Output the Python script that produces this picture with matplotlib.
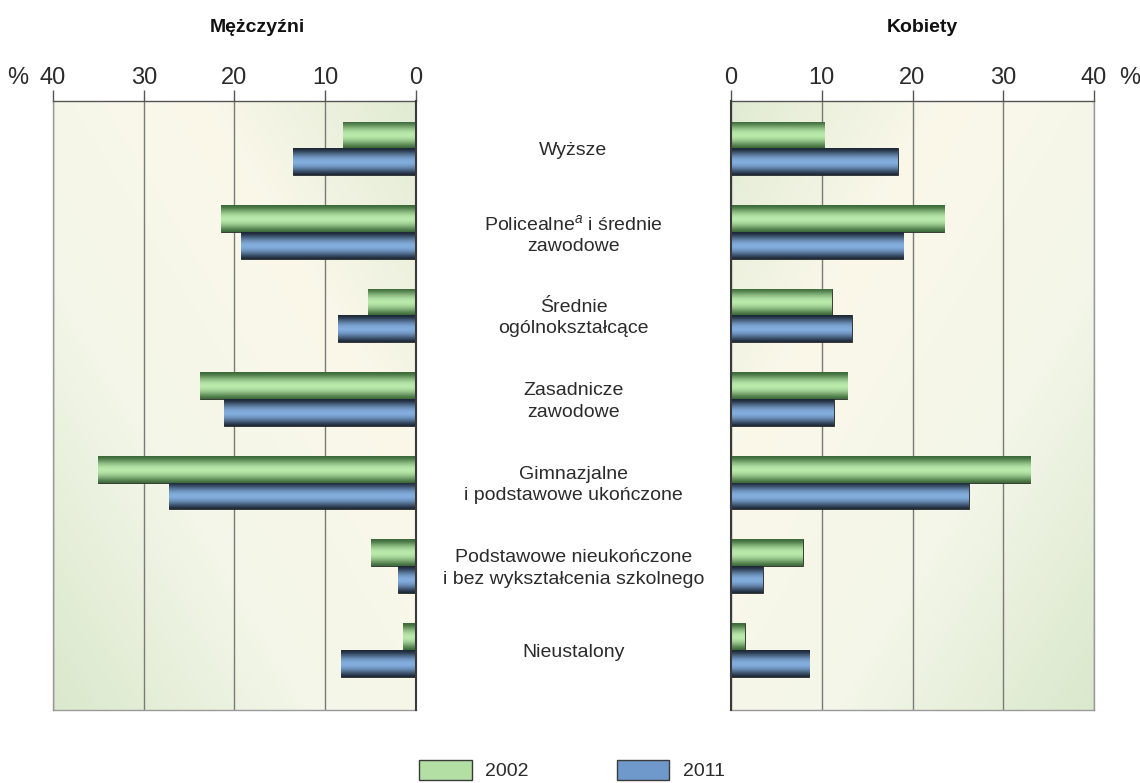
import numpy as np
import matplotlib
matplotlib.use("Agg")
import matplotlib.pyplot as plt
from matplotlib.patches import Patch
from matplotlib.transforms import blended_transform_factory
from matplotlib.colors import to_rgb

plt.rcParams['font.family'] = ['Liberation Sans', 'DejaVu Sans']
plt.rcParams['mathtext.fontset'] = 'custom'
plt.rcParams['mathtext.rm'] = 'Liberation Sans'
plt.rcParams['mathtext.it'] = 'Liberation Sans:italic'

# ---- data ----
categories = [
    "Wyższe",
    "Policealne$^{a}$ i średnie\nzawodowe",
    "Średnie\nogólnokształcące",
    "Zasadnicze\nzawodowe",
    "Gimnazjalne\ni podstawowe ukończone",
    "Podstawowe nieukończone\ni bez wykształcenia szkolnego",
    "Nieustalony",
]
men_2002 = [8.0, 21.5, 5.3, 23.8, 35.0, 5.0, 1.4]
men_2011 = [13.6, 19.3, 8.6, 21.2, 27.2, 2.0, 8.3]
women_2002 = [10.3, 23.5, 11.1, 12.8, 33.0, 7.9, 1.5]
women_2011 = [18.4, 19.0, 13.3, 11.3, 26.2, 3.5, 8.6]
x_ticks = [0, 10, 20, 30, 40]
series_labels = ["2002", "2011"]
panel_titles = ["Mężczyźni", "Kobiety"]

TXT = "#2b2b2b"
GREEN_DARK, GREEN_LIGHT = "#3d6a39", "#b9e9ab"
BLUE_DARK, BLUE_LIGHT = "#1d2938", "#82addd"

fig = plt.figure(figsize=(11.4, 7.83), dpi=100)
fig.patch.set_facecolor("white")

W, H = 1140, 783
top_px, bot_px = 101, 710
rects = {
    "left": [53 / W, 1 - bot_px / H, (416 - 53) / W, (bot_px - top_px) / H],
    "right": [731 / W, 1 - bot_px / H, (1094 - 731) / W, (bot_px - top_px) / H],
}


def bg_gradient(mirror):
    n = 300
    xx, yy = np.meshgrid(np.linspace(0, 1, n), np.linspace(1, 0, n))
    if mirror:  # left panel: green top-right & bottom-left
        t = ((1 - xx) + (1 - yy)) / 2
    else:       # right panel: green top-left & bottom-right
        t = (xx + (1 - yy)) / 2
    stops = [0.0, 0.3, 0.65, 1.0]
    cols = [to_rgb("#e0ebd3"), to_rgb("#fbf8ea"), to_rgb("#f3f6e8"), to_rgb("#dae8cc")]
    img = np.zeros((n, n, 3))
    for c in range(3):
        img[..., c] = np.interp(t, stops, [col[c] for col in cols])
    return img


def bar_gradient(dark, light, n=64):
    t = np.linspace(0, 1, n)
    f = np.clip(np.sin(np.pi * np.clip((t - 0.02) / 0.98, 0, 1)), 0, 1) ** 1.3
    d, l = np.array(to_rgb(dark)), np.array(to_rgb(light))
    return (d[None, :] + (l - d)[None, :] * f[:, None])[:, None, :]


grad_green = bar_gradient(GREEN_DARK, GREEN_LIGHT)
grad_blue = bar_gradient(BLUE_DARK, BLUE_LIGHT)

n = len(categories)
ypos = np.arange(n)[::-1].astype(float)
h = 0.32

axes = {}
for side, v02, v11 in [("left", men_2002, men_2011), ("right", women_2002, women_2011)]:
    rect = rects[side]
    bg = fig.add_axes(rect, zorder=0)
    bg.imshow(bg_gradient(side == "left"), extent=(0, 1, 0, 1), aspect="auto",
              interpolation="bilinear")
    bg.set_axis_off()

    ax = fig.add_axes(rect, zorder=1)
    ax.set_facecolor("none")
    axes[side] = ax
    for vals, yoff, grad, dark in [(v02, h / 2, grad_green, GREEN_DARK),
                                   (v11, -h / 2, grad_blue, BLUE_DARK)]:
        bars = ax.barh(ypos + yoff, vals, height=h, color=dark, edgecolor="#2a2a2a",
                       linewidth=0.6, zorder=3)
        for b in bars:
            x0, y0 = b.get_x(), b.get_y()
            im = ax.imshow(grad, extent=(x0, x0 + b.get_width(), y0, y0 + b.get_height()),
                           aspect="auto", interpolation="bilinear", zorder=3.5, origin="upper")
            im.set_clip_path(b)
    ax.set_ylim(-0.72, n - 1 + 0.566)
    if side == "left":
        ax.set_xlim(40, 0)
    else:
        ax.set_xlim(0, 40)
    ax.set_xticks(x_ticks)
    ax.set_xticklabels([str(t) for t in x_ticks])
    ax.set_yticks([])
    ax.xaxis.tick_top()
    ax.tick_params(axis="x", direction="out", length=8, width=1, color="#555555",
                   pad=1, labelsize=17, labelcolor=TXT)
    ax.grid(axis="x", color="#7a7a7a", linewidth=1.0, zorder=1)
    ax.set_axisbelow(True)
    for s in ax.spines.values():
        s.set_color("#9a9a9a")
        s.set_linewidth(1.0)
    ax.spines["top"].set_color("#555555")
    zero_sp = "right" if side == "left" else "left"
    ax.spines[zero_sp].set_color("#3a3a3a")
    ax.spines[zero_sp].set_linewidth(1.5)
    ax.spines[zero_sp].set_zorder(5)

# category labels between panels
tr = blended_transform_factory(fig.transFigure, axes["left"].transData)
for y, lab in zip(ypos, categories):
    axes["left"].text(573.5 / W, y - 0.03, lab, transform=tr, ha="center", va="center",
                      fontsize=14, color=TXT, linespacing=1.35, clip_on=False)

# titles
fig.text(257 / W, 1 - 27 / H, panel_titles[0], ha="center", va="center",
         fontsize=14, fontweight="bold", color="#111111")
fig.text(922 / W, 1 - 27 / H, panel_titles[1], ha="center", va="center",
         fontsize=14, fontweight="bold", color="#111111")
# percent signs
fig.text(18 / W, 1 - 78 / H, "%", ha="center", va="center", fontsize=17, color=TXT)
fig.text(1130 / W, 1 - 78 / H, "%", ha="center", va="center", fontsize=17, color=TXT)

# legend
handles = [Patch(facecolor="#b3dfa4", edgecolor="#3a3a3a", linewidth=1.0, label=series_labels[0]),
           Patch(facecolor="#6f98cb", edgecolor="#3a3a3a", linewidth=1.0, label=series_labels[1])]
leg = fig.legend(handles=handles, loc="center", bbox_to_anchor=(572 / W, 1 - 770 / H),
                 ncol=2, frameon=False, fontsize=14, handlelength=2.7, handleheight=1.2,
                 handletextpad=0.7, columnspacing=4.5, borderpad=0)
for t in leg.get_texts():
    t.set_color(TXT)

fig.savefig("out.png", dpi=100, facecolor="white")
